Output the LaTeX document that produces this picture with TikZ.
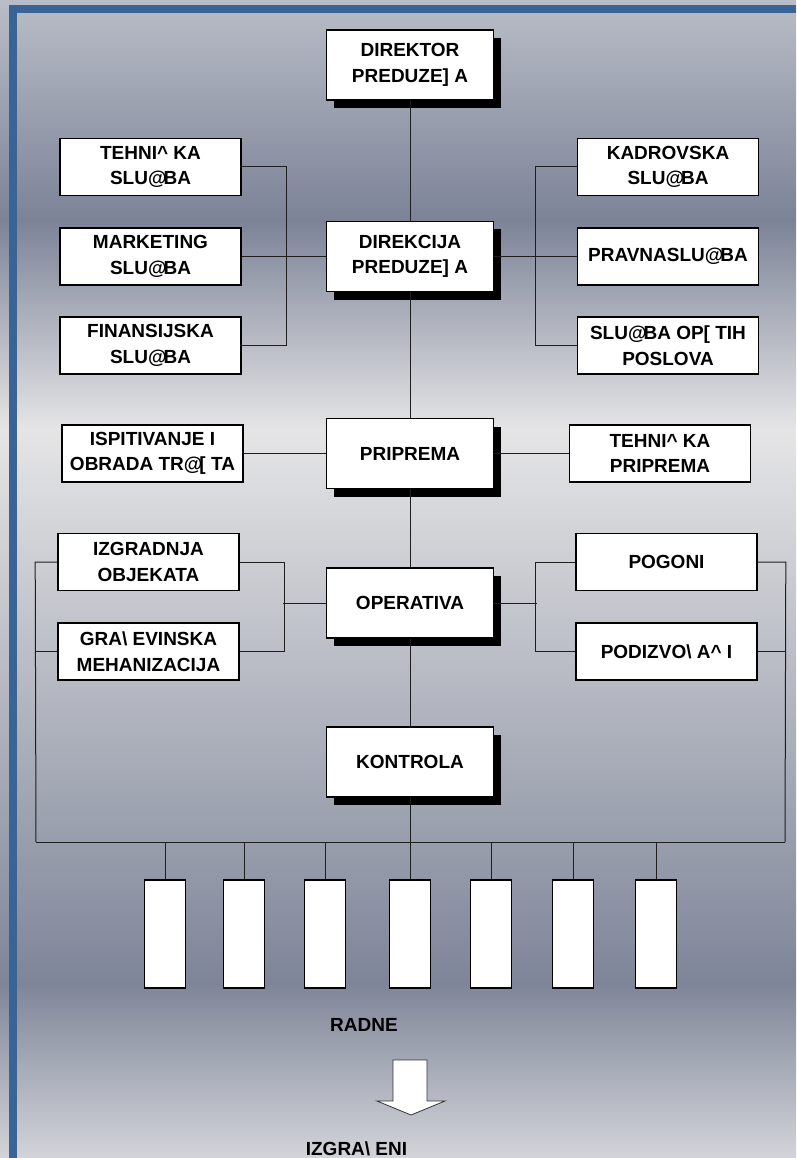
\documentclass[tikz,border=0pt]{standalone}
\usepackage{fontspec}
\setmainfont{Liberation Sans}
\usetikzlibrary{shadows}

\definecolor{frameblue}{HTML}{3A6396}
\definecolor{bgtop}{HTML}{B9BDC7}
\definecolor{bgdark}{HTML}{7C8397}
\definecolor{bglight}{HTML}{E5E5E6}
\definecolor{bgdarklow}{HTML}{7E8598}
\definecolor{bgbot}{HTML}{D3D4D9}
\definecolor{linkgray}{HTML}{1E1E1E}

% banded background of the panel, top light, two dark zones
\pgfdeclareverticalshading{panelshade}{100bp}{%
  color(0bp)=(bgbot); color(25bp)=(bgbot);
  color(32.56bp)=(bgdarklow); color(56.43bp)=(bglight);
  color(65.5bp)=(bgdark); color(75bp)=(bgtop); color(100bp)=(bgtop)}

\newcommand\boxfont{\bfseries\fontsize{19}{25.5}\selectfont}
% the @ glyph sits tight against the following letter
\newcommand\at{@\kern-3pt}

\begin{document}
\begin{tikzpicture}[x=1pt,y=-1pt,
  mainbox/.style={draw=black, line width=1.6pt, fill=white,
    minimum width=167pt, minimum height=70pt, inner sep=0pt,
    align=center, font=\boxfont,
    drop shadow={shadow xshift=7pt, shadow yshift=-8pt, fill=black, opacity=1}},
  sidebox/.style={draw=black, line width=1.6pt, fill=white,
    minimum width=181pt, minimum height=57pt, inner sep=0pt,
    align=center, font=\boxfont},
  workbox/.style={draw=black, line width=1.3pt, fill=white,
    minimum width=41pt, minimum height=108pt, inner sep=0pt},
  link/.style={draw=linkgray, line width=1pt},
  caption/.style={font=\boxfont, anchor=base, inner sep=0pt}]

% page and frame
\useasboundingbox (0,0) rectangle (796,1158);
\shade[shading=panelshade] (0,0) rectangle (796,1158);
\fill[frameblue] (9,5) rectangle (796,13);
\fill[frameblue] (9,5) rectangle (17,1158);

% central column
\node[mainbox] (dir)  at (410,65)    {DIREKTOR\\PREDUZE] A};
\node[mainbox] (dirk) at (410,256.5) {DIREKCIJA\\PREDUZE] A};
\node[mainbox] (prip) at (410,453.5) {PRIPREMA};
\node[mainbox] (oper) at (410,603)   {OPERATIVA};
\node[mainbox] (kont) at (410,762)   {KONTROLA};

% services
\node[sidebox] (teh)  at (150.5,167)   {TEHNI\textasciicircum{} KA\\SLU\at BA};
\node[sidebox] (mkt)  at (150.5,256.5) {MARKETING\\SLU\at BA};
\node[sidebox] (fin)  at (150.5,345.5) {FINANSIJSKA\\SLU\at BA};
\node[sidebox] (kad)  at (668,167)     {KADROVSKA\\SLU\at BA};
\node[sidebox] (prav) at (668,256.5)   {PRAVNASLU\at BA};
\node[sidebox] (opst) at (668,345.5)   {SLU\at BA OP[ TIH\\POSLOVA};

% preparation
\node[sidebox] (isp) at (152.5,453.5) {ISPITIVANJE I\\OBRADA TR\at[ TA};
\node[sidebox] (tpr) at (660,453.5)   {TEHNI\textasciicircum{} KA\\PRIPREMA};

% operations
\node[sidebox] (izg) at (148.5,562)   {IZGRADNJA\\OBJEKATA};
\node[sidebox] (grd) at (148.5,651.5) {GRA\textbackslash{} EVINSKA\\MEHANIZACIJA};
\node[sidebox] (pog) at (666.5,562)   {POGONI};
\node[sidebox] (pod) at (666.5,651.5) {PODIZVO\textbackslash{} A\textasciicircum{} I};

% work units
\foreach \i/\x in {1/165,2/244,3/325,4/410,5/491,6/573,7/656}
  \node[workbox] (w\i) at (\x,934) {};

% bus ends
\coordinate (busL) at (36,842);
\coordinate (busR) at (785,842);

% trunk
\draw[link] (dir) -- (dirk);
\draw[link] (dirk) -- (prip);
\draw[link] (prip) -- (oper);
\draw[link] (oper) -- (kont);
\draw[link] (kont) -- (kont |- busL);

% service brackets
\draw[link] (teh.east) -- ++(45,0) |- (fin.east);
\draw[link] (mkt.east) -- (dirk.west);
\draw[link] (kad.west) -- ++(-41,0) |- (opst.west);
\draw[link] (dirk.east) -- (prav.west);

% preparation links
\draw[link] (isp.east) -- (prip.west);
\draw[link] (prip.east) -- (tpr.west);

% operations brackets
\draw[link] (izg.east) -- ++(45,0) |- (grd.east);
\draw[link] (oper.west) -- ++(-42.5,0);
\draw[link] (pog.west) -- ++(-40,0) |- (pod.west);
\draw[link] (oper.east) -- ++(42.5,0);

% outer legs down to the bus
\draw[link] (izg.west) -- ++(-22,0) -- (busL);
\draw[link] (grd.west) -- ++(-22,0);
\draw[link] (pog.east) -- ++(28,0) -- (busR);
\draw[link] (pod.east) -- ++(28,0);
\draw[link] (busL) -- (busR);

% drops to work units
\foreach \i in {1,...,7}
  \draw[link] (w\i.north |- busL) -- (w\i.north);

% result
\node[caption] (radne) at (364,1031) {RADNE};
\draw[draw=black!80, line width=0.8pt, fill=white]
  (393,1060) -- (427,1060) -- (427,1101) -- (445,1101) -- (411,1115)
  -- (377,1101) -- (393,1101) -- cycle;
\node[caption] (izgr) at (356.5,1155) {IZGRA\textbackslash{} ENI};

\end{tikzpicture}
\end{document}
